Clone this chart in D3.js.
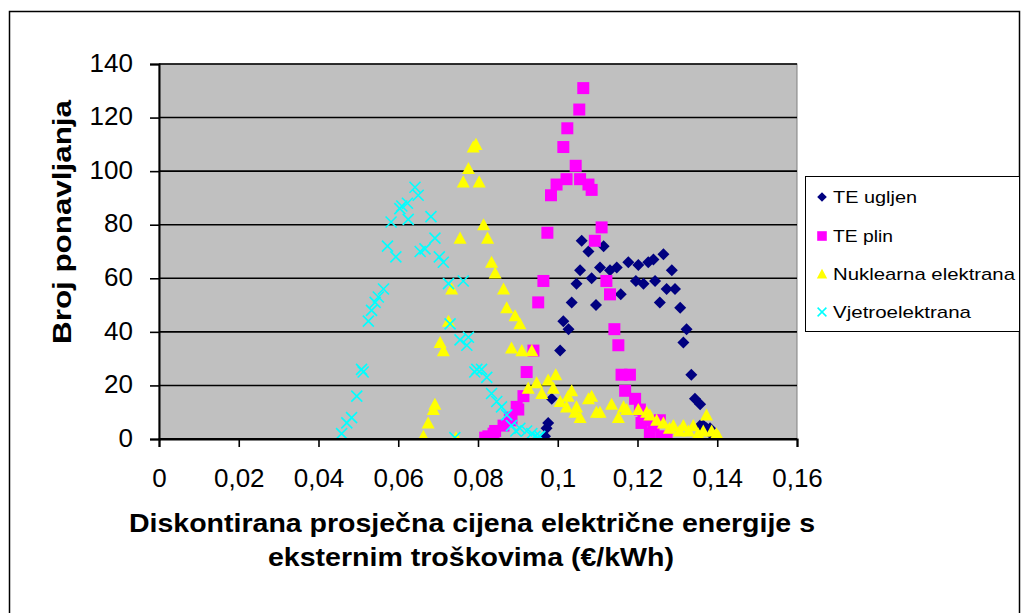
<!DOCTYPE html>
<html><head><meta charset="utf-8">
<script src="https://cdn.jsdelivr.net/npm/d3@7"></script>
<style>body{margin:0;background:#fff}svg{display:block}text{font-family:Arial,"Liberation Sans",sans-serif}</style>
</head><body>
<svg id="c" width="1029" height="613"></svg>
<script>
const seriesNames = ["TE ugljen", "TE plin", "Nuklearna elektrana", "Vjetroelektrana"];
const xTickValues = [0, 0.02, 0.04, 0.06, 0.08, 0.1, 0.12, 0.14, 0.16];
const xTickLabels = ["0", "0,02", "0,04", "0,06", "0,08", "0,1", "0,12", "0,14", "0,16"];
const yTickValues = [0, 20, 40, 60, 80, 100, 120, 140];
const yTickLabels = ["0", "20", "40", "60", "80", "100", "120", "140"];
const xTitleLines = ["Diskontirana prosječna cijena električne energije s", "eksternim troškovima (€/kWh)"];
const yTitle = "Broj ponavljanja";

const teUgljen = [[0.0968,1],[0.0972,4],[0.0976,6],[0.0985,15],[0.1006,33],[0.1014,44],[0.1027,41],[0.1035,51],[0.1047,58],[0.1056,63],[0.1060,74],[0.1077,70],[0.1085,60],[0.1096,50],[0.1106,64],[0.1115,72],[0.1131,63],[0.1148,64],[0.1158,54],[0.1177,66],[0.1196,59],[0.1202,65],[0.1215,58],[0.1227,66],[0.1240,67],[0.1244,59],[0.1256,51],[0.1265,69],[0.1273,56],[0.1286,63],[0.1294,56],[0.1307,49],[0.1315,36],[0.1323,41],[0.1335,24],[0.1344,15],[0.1357,13],[0.1357,5],[0.1365,5],[0.1373,4],[0.1382,4],[0.1390,1]];
const tePlin = [[0.0818,0.5],[0.0826,1],[0.0839,2],[0.0843,3],[0.0864,5],[0.0880,8],[0.0884,7],[0.0897,12],[0.0901,11],[0.0914,16],[0.0922,25],[0.0939,33],[0.0951,51],[0.0964,59],[0.0974,77],[0.0983,91],[0.0997,95],[0.1014,109],[0.1022,97],[0.1024,116],[0.1045,102],[0.1054,123],[0.1056,97],[0.1064,131],[0.1077,95],[0.1085,93],[0.1093,74],[0.1110,79],[0.1122,59],[0.1131,54],[0.1142,41],[0.1152,35],[0.1160,24],[0.1181,24],[0.1169,18],[0.1194,15],[0.1206,11],[0.1210,6],[0.1215,7],[0.1231,2],[0.1240,5],[0.1256,7],[0.1261,1],[0.1273,0]];
const nuklearna = [[0.0663,1],[0.0675,6],[0.0688,11],[0.0692,13],[0.0705,36],[0.0713,33],[0.0726,44],[0.0734,56],[0.0745,0.5],[0.0755,75],[0.0763,96],[0.0776,101],[0.0788,109],[0.0795,110],[0.0803,96],[0.0814,80],[0.0824,75],[0.0834,66],[0.0843,62],[0.0864,56],[0.0872,49],[0.0884,34],[0.0893,46],[0.0905,43],[0.0910,33],[0.0926,19],[0.0935,33],[0.0947,21],[0.0960,17],[0.0976,22],[0.0989,19],[0.0995,24],[0.1006,14],[0.1022,12],[0.1026,16],[0.1035,18],[0.1043,10],[0.1047,12],[0.1056,8],[0.1077,15],[0.1085,16],[0.1097,10],[0.1106,10],[0.1135,13],[0.1152,8],[0.1165,12],[0.1173,11],[0.1202,11],[0.1223,10],[0.1231,9],[0.1248,7],[0.1265,6],[0.1280,4],[0.1290,5],[0.1305,3],[0.1315,5],[0.1328,3],[0.1340,5],[0.1352,2],[0.1365,3],[0.1373,9],[0.1386,3],[0.1398,2],[0.1403,1]];
const vjetro = [[0.0458,2],[0.0471,6],[0.0483,8],[0.0496,16],[0.0508,26],[0.0512,25],[0.0525,44],[0.0533,48],[0.0542,51],[0.0550,53],[0.0563,56],[0.0573,72],[0.0582,81],[0.0594,68],[0.0604,86],[0.0609,87],[0.0623,88],[0.0625,82],[0.0642,94],[0.0650,91],[0.0655,70],[0.0667,71],[0.0682,83],[0.0692,75],[0.0703,68],[0.0713,66],[0.0726,58],[0.0730,43],[0.0742,0.5],[0.0755,37],[0.0763,59],[0.0772,35],[0.0776,38],[0.0792,25],[0.0797,26],[0.0809,26],[0.0822,23],[0.0834,17],[0.0847,14],[0.0859,12],[0.0872,9],[0.0884,5],[0.0895,3],[0.0905,4],[0.0922,3],[0.0935,2],[0.0943,1],[0.0950,0.5],[0.0955,1]];

const colors = ["#000080", "#FF00FF", "#FFFF00", "#00FFFF"];
const shapes = ["diamond", "square", "triangle", "cross"];
const allSeries = [teUgljen, tePlin, nuklearna, vjetro];

const svg = d3.select("#c");
const P = {l: 159, r: 797, t: 64, b: 439};
const x = d3.scaleLinear().domain([0, 0.16]).range([P.l, P.r]);
const y = d3.scaleLinear().domain([0, 140]).range([P.b, P.t]);

// outer border
svg.append("rect").attr("x", 9.5).attr("y", 11.5).attr("width", 1010).attr("height", 640)
  .attr("fill", "#fff").attr("stroke", "#000").attr("stroke-width", 1.5);

// plot background
svg.append("rect").attr("x", P.l).attr("y", P.t).attr("width", P.r - P.l).attr("height", P.b - P.t)
  .attr("fill", "#C0C0C0").attr("stroke", "#808080").attr("stroke-width", 1);

// gridlines
svg.append("g").selectAll("line").data(yTickValues.filter(v => v > 0)).join("line")
  .attr("x1", P.l).attr("x2", P.r).attr("y1", d => y(d)).attr("y2", d => y(d))
  .attr("stroke", "#000").attr("stroke-width", 1.6);

// axes
const xAxis = d3.axisBottom(x).tickValues(xTickValues).tickFormat((d, i) => xTickLabels[i]).tickSize(8).tickPadding(22);
const gx = svg.append("g").attr("transform", `translate(0,${P.b})`).call(xAxis);
gx.select(".domain").attr("stroke", "#000").attr("stroke-width", 2);
gx.selectAll(".tick line").attr("stroke", "#000").attr("stroke-width", 1.6);
gx.selectAll(".tick text").attr("font-size", 26).attr("font-family", "Arial, 'Liberation Sans', sans-serif").attr("fill", "#000");

const yAxis = d3.axisLeft(y).tickValues(yTickValues).tickFormat((d, i) => yTickLabels[i]).tickSize(9).tickPadding(17);
const gy = svg.append("g").attr("transform", `translate(${P.l},0)`).call(yAxis);
gy.select(".domain").attr("stroke", "#000").attr("stroke-width", 2);
gy.selectAll(".tick line").attr("stroke", "#000").attr("stroke-width", 1.6);
gy.selectAll(".tick text").attr("font-size", 26).attr("font-family", "Arial, 'Liberation Sans', sans-serif").attr("fill", "#000").attr("dy", "0.28em");

// marker paths
function shapePath(s, k) {
  const h = 6 * k;
  if (s === "diamond") return `M0,${-h}L${h},0L0,${h}L${-h},0Z`;
  if (s === "square") { const a = 6 * k; return `M${-a},${-a}H${a}V${a}H${-a}Z`; }
  if (s === "triangle") { const a = 6.5 * k; return `M0,${-a}L${a},${a * 0.85}L${-a},${a * 0.85}Z`; }
  const c = 5.5 * k; return `M${-c},${-c}L${c},${c}M${c},${-c}L${-c},${c}`;
}

svg.append("defs").append("clipPath").attr("id", "pc").append("rect")
  .attr("x", P.l).attr("y", P.t).attr("width", P.r - P.l).attr("height", P.b - P.t);

const gm = svg.append("g").attr("clip-path", "url(#pc)");
allSeries.forEach((data, i) => {
  const sel = gm.append("g").selectAll("path").data(data).join("path")
    .attr("transform", d => `translate(${x(d[0])},${y(d[1])})`)
    .attr("d", shapePath(shapes[i], 1));
  if (shapes[i] === "cross") sel.attr("fill", "none").attr("stroke", colors[i]).attr("stroke-width", 1.6);
  else sel.attr("fill", colors[i]);
});
// redraw axis line over markers
svg.append("line").attr("x1", P.l).attr("x2", P.r).attr("y1", P.b).attr("y2", P.b).attr("stroke", "#000").attr("stroke-width", 2);

// axis titles
const xt = svg.append("g").attr("font-weight", "bold").attr("font-size", 25).attr("text-anchor", "middle").attr("fill", "#000");
xt.append("text").attr("x", 472).attr("y", 532).attr("textLength", 686).attr("lengthAdjust", "spacingAndGlyphs").text(xTitleLines[0]);
xt.append("text").attr("x", 471).attr("y", 566).attr("textLength", 406).attr("lengthAdjust", "spacingAndGlyphs").text(xTitleLines[1]);

svg.append("text").attr("transform", "translate(71,222) rotate(-90)").attr("text-anchor", "middle")
  .attr("font-weight", "bold").attr("font-size", 25).attr("fill", "#000")
  .attr("textLength", 244).attr("lengthAdjust", "spacingAndGlyphs").text(yTitle);

// legend
const lg = svg.append("g");
lg.append("rect").attr("x", 805.5).attr("y", 176.5).attr("width", 214).attr("height", 155)
  .attr("fill", "#fff").attr("stroke", "#000").attr("stroke-width", 1);
const legendY = [197, 236, 274, 312];
const legendW = [84, 60, 182, 138];
seriesNames.forEach((n, i) => {
  const m = lg.append("path").attr("transform", `translate(822,${legendY[i]})`).attr("d", shapePath(shapes[i], 0.8));
  if (shapes[i] === "cross") m.attr("fill", "none").attr("stroke", colors[i]).attr("stroke-width", 1.5);
  else m.attr("fill", colors[i]);
  lg.append("text").attr("x", 833).attr("y", legendY[i] + 6).attr("font-size", 17).attr("fill", "#000")
    .attr("textLength", legendW[i]).attr("lengthAdjust", "spacingAndGlyphs").text(n);
});
</script>
</body></html>
